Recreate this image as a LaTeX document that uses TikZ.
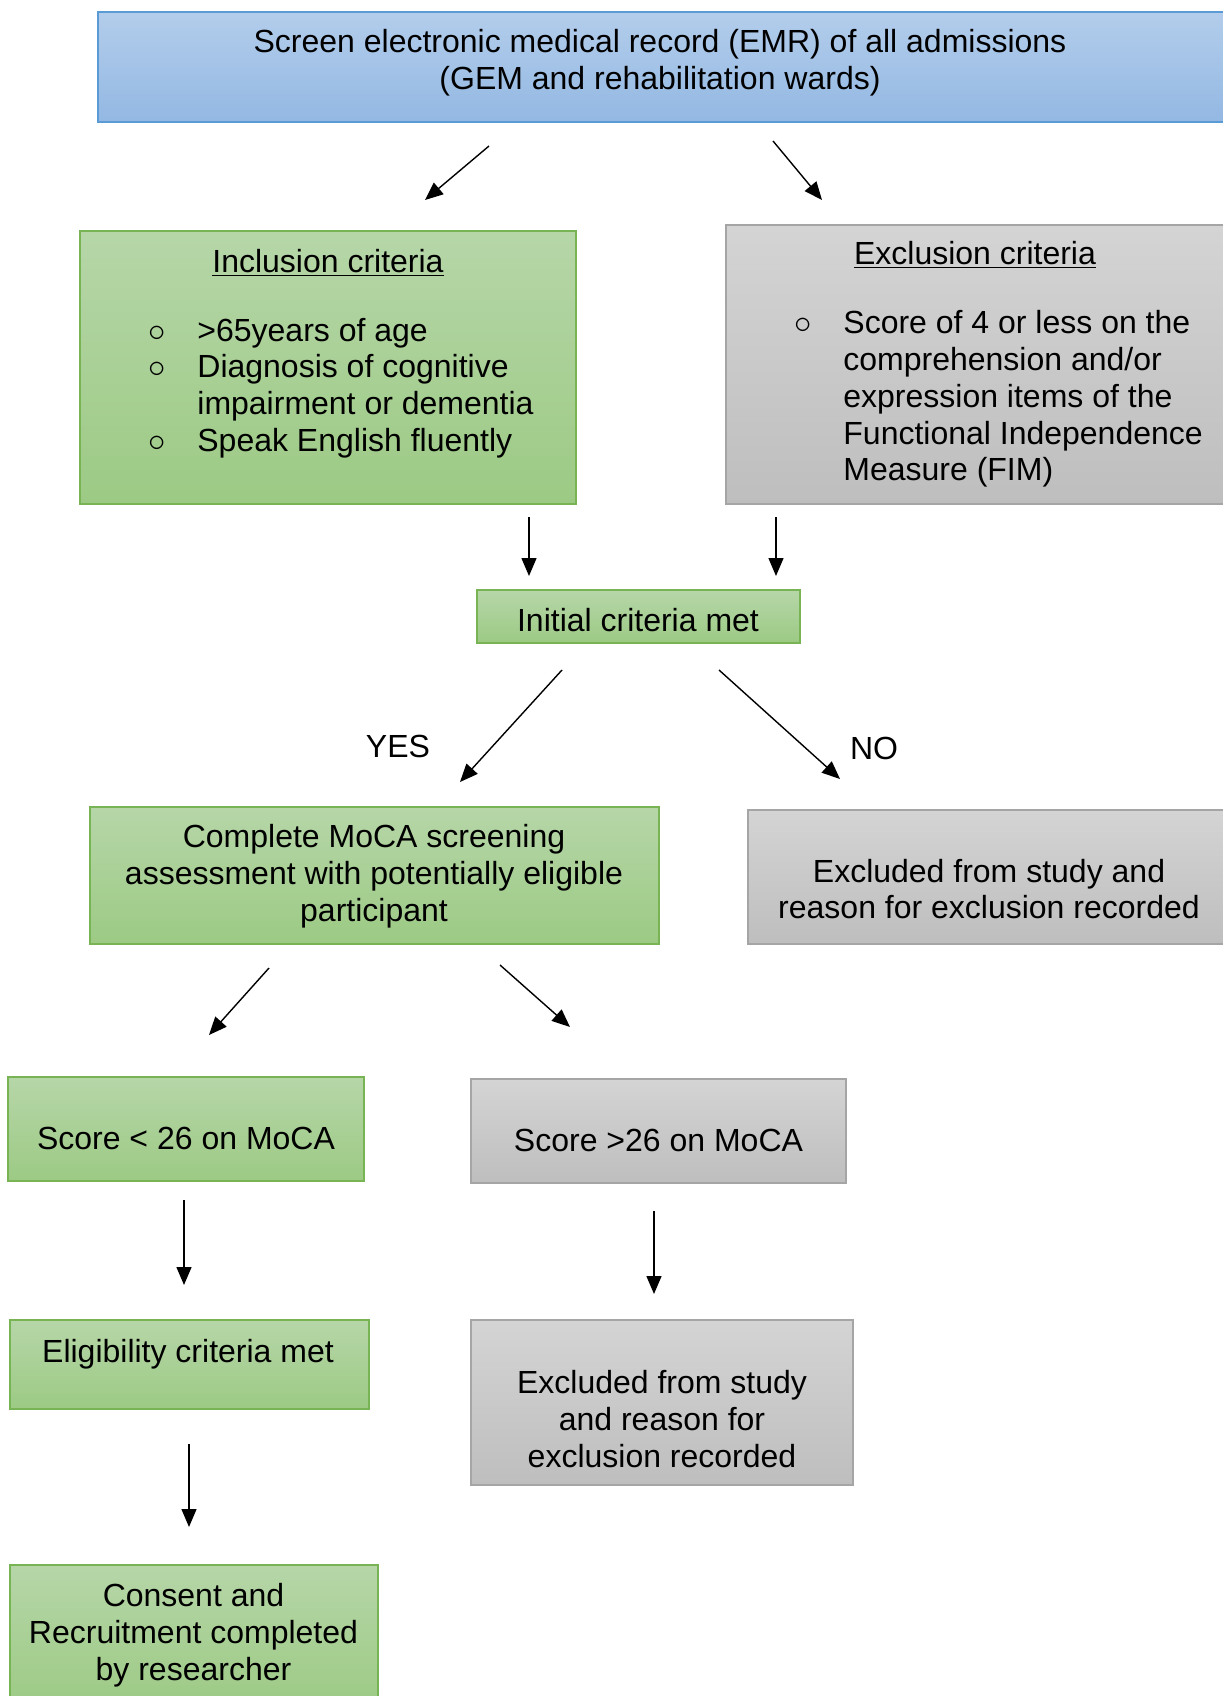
\documentclass[tikz,border=0pt]{standalone}
\usepackage{fontspec}
\setmainfont{Liberation Sans}
\usepackage{tikz}
\usetikzlibrary{arrows.meta, positioning}

\definecolor{bluetop}{HTML}{B3CDEB}
\definecolor{bluebot}{HTML}{93B8E3}
\definecolor{blueedge}{HTML}{5B9BD5}
\definecolor{greentop}{HTML}{B6D6A8}
\definecolor{greenbot}{HTML}{9CCA84}
\definecolor{greenedge}{HTML}{78B454}
\definecolor{greytop}{HTML}{D4D4D4}
\definecolor{greybot}{HTML}{BEBEBE}
\definecolor{greyedge}{HTML}{A5A5A5}

\newcommand{\bul}{\llap{$\circ$\hspace{16pt}}}

\tikzset{
    box/.style 2 args={minimum width=#1*0.5pt, minimum height=#2*0.5pt, inner sep=0pt, line width=0.75pt},
    bluebox/.style={draw=blueedge, top color=bluetop, bottom color=bluebot},
    greenbox/.style={draw=greenedge, top color=greentop, bottom color=greenbot},
    greybox/.style={draw=greyedge, top color=greytop, bottom color=greybot},
    txt/.style={align=center, inner sep=0pt, font=\fontsize{16pt}{18.4pt}\selectfont},
    lst/.style={align=left, inner sep=0pt, anchor=west, font=\fontsize{16pt}{18.4pt}\selectfont},
    arr/.style={-{Triangle[length=9pt,width=7.5pt]}, line width=0.7pt}
}

\begin{document}
\begin{tikzpicture}[x=0.5pt, y=-0.5pt]
    \useasboundingbox (0,0) rectangle (1222,1696);

    % boxes
    \node[box={1128}{110}, bluebox] (emr) at (662,67) {};
    \node[box={496}{273}, greenbox] (incl) at (328,367.5) {};
    \node[box={500}{279}, greybox] (excl) at (976,364.5) {};
    \node[box={323}{53}, greenbox] (init) at (638.5,616.5) {};
    \node[box={569}{137}, greenbox] (moca) at (374.5,875.5) {};
    \node[box={478}{134}, greybox] (out1) at (987,877) {};
    \node[box={356}{104}, greenbox] (low) at (186,1129) {};
    \node[box={375}{104}, greybox] (high) at (658.5,1131) {};
    \node[box={359}{89}, greenbox] (elig) at (189.5,1364.5) {};
    \node[box={382}{165}, greybox] (out2) at (662,1402.5) {};
    \node[box={368}{145}, greenbox] (cons) at (194,1637.5) {};

    % texts
    \node[txt] (emrtxt) at (660,63) {Screen electronic medical record (EMR) of all admissions\\(GEM and rehabilitation wards)};
    \node[txt] (incltitle) at (328,263) {\underline{Inclusion criteria}};
    \node[lst] (incllist) at (197,388) {\bul>65years of age\\\bul Diagnosis of cognitive\\impairment or dementia\\\bul Speak English fluently};
    \node[txt] (excltitle) at (975,255) {\underline{Exclusion criteria}};
    \node[lst] (excllist) at (843,399) {\bul Score of 4 or less on the\\comprehension and/or\\expression items of the\\Functional Independence\\Measure (FIM)};
    \node[txt] (inittxt) at (638,620) {Initial criteria met};
    \node[txt] (yes) at (398,746) {YES};
    \node[txt] (no) at (874,748) {NO};
    \node[txt] (mocatxt) at (374,876) {Complete MoCA screening\\assessment with potentially eligible\\participant};
    \node[txt] (out1txt) at (989,889) {Excluded from study and\\reason for exclusion recorded};
    \node[txt] (lowtxt) at (186,1138) {Score < 26 on MoCA};
    \node[txt] (hightxt) at (658.5,1140) {Score >26 on MoCA};
    \node[txt] (eligtxt) at (188,1354) {Eligibility criteria met};
    \node[txt] (out2txt) at (662,1419) {Excluded from study\\and reason for\\exclusion recorded};
    \node[txt] (constxt) at (193.5,1635) {Consent and\\Recruitment completed\\by researcher};

    % arrows
    \foreach \n/\sx/\sy/\ex/\ey in {1/489/146/425/200, 2/773/141/822/200,
        3/529/517/529/576, 4/776/517/776/576, 5/562/670/460/782,
        6/719/670/840/779, 7/269/968/209/1035, 8/500/965/570/1027,
        9/184/1200/184/1285, 10/654/1211/654/1294, 11/189/1444/189/1527}
    {
        \coordinate (s\n) at (\sx,\sy);
        \coordinate (e\n) at (\ex,\ey);
        \draw[arr] (s\n) -- (e\n);
    }
\end{tikzpicture}
\end{document}
